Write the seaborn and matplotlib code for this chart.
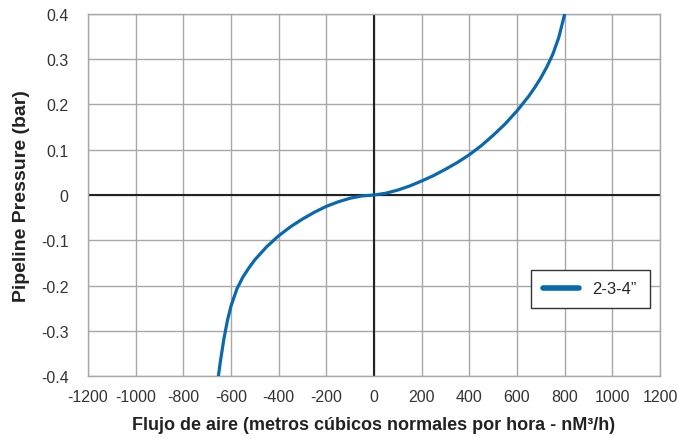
import numpy as np
import pandas as pd
import matplotlib
matplotlib.use("Agg")
import matplotlib.pyplot as plt
import seaborn as sns

# curve, negative side then positive side
flow_neg = [-653, -645, -630, -615, -600, -575, -550, -525, -500, -450,
            -400, -350, -300, -250, -200, -150, -100, -50]
pres_neg = [-0.40, -0.369, -0.318, -0.277, -0.245, -0.207, -0.181, -0.161, -0.143, -0.114,
            -0.09, -0.07, -0.053, -0.038, -0.025, -0.015, -0.007, -0.002]
flow_pos = [0, 50, 100, 150, 200, 250, 300, 350, 400, 450,
            500, 550, 600, 650, 675, 700, 725, 750, 775, 800]
pres_pos = [0.0, 0.004, 0.011, 0.02, 0.031, 0.043, 0.057, 0.072, 0.089, 0.109,
            0.132, 0.157, 0.186, 0.219, 0.238, 0.259, 0.283, 0.311, 0.348, 0.40]

x_ticks = list(range(-1200, 1201, 200))
y_ticks = [-0.4, -0.3, -0.2, -0.1, 0, 0.1, 0.2, 0.3, 0.4]
series_name = "2-3-4\u201d"

df = pd.DataFrame({
    "flow": flow_neg + flow_pos,
    "pressure": pres_neg + pres_pos,
    "series": series_name,
})

sns.set_theme(style="whitegrid")
plt.rcParams["font.family"] = ["Liberation Sans", "DejaVu Sans"]
plt.rcParams["axes.unicode_minus"] = False

fig = plt.figure(figsize=(6.77, 4.39), dpi=100)
ax = fig.add_axes([0.130, 0.141, 0.845, 0.825])

ax.axhline(0, color="#222222", lw=1.5, zorder=2)
ax.axvline(0, color="#222222", lw=1.5, zorder=2)

sns.lineplot(data=df, x="flow", y="pressure", hue="series", palette=["#0a68ac"],
             lw=2.3, ax=ax, zorder=3)

ax.set_xlim(-1200, 1200)
ax.set_ylim(-0.4, 0.4)
ax.set_xticks(x_ticks)
ax.set_xticklabels([str(t) for t in x_ticks])
ax.set_yticks(y_ticks)
ax.set_yticklabels([f"{t:g}" for t in y_ticks])
ax.grid(True, color="#a8a8a8", lw=1)
for s in ax.spines.values():
    s.set_color("#a8a8a8")
    s.set_linewidth(1)
ax.tick_params(axis="both", which="both", length=5, color="#a8a8a8", width=1,
               labelsize=11.5, labelcolor="#333333", direction="out")
ax.tick_params(axis="y", pad=9)
ax.tick_params(axis="x", pad=4)

ax.set_xlabel("Flujo de aire (metros cúbicos normales por hora - nM³/h)",
              fontsize=13, fontweight="bold", color="#222222", labelpad=9)
ax.set_ylabel("Pipeline Pressure (bar)", fontsize=14, fontweight="bold",
              color="#222222", labelpad=8)

leg = ax.legend(loc="lower left", bbox_to_anchor=(0.7745, 0.188, 0.208, 0.119),
                mode="expand", borderaxespad=0, frameon=True, fancybox=False,
                fontsize=12, handlelength=2.2, handletextpad=0.75, borderpad=0.7,
                title=None)
leg.get_frame().set_edgecolor("#333333")
leg.get_frame().set_linewidth(1)
leg.get_frame().set_alpha(1)
for line in leg.get_lines():
    line.set_linewidth(4)

fig.savefig("out.png", dpi=100)
